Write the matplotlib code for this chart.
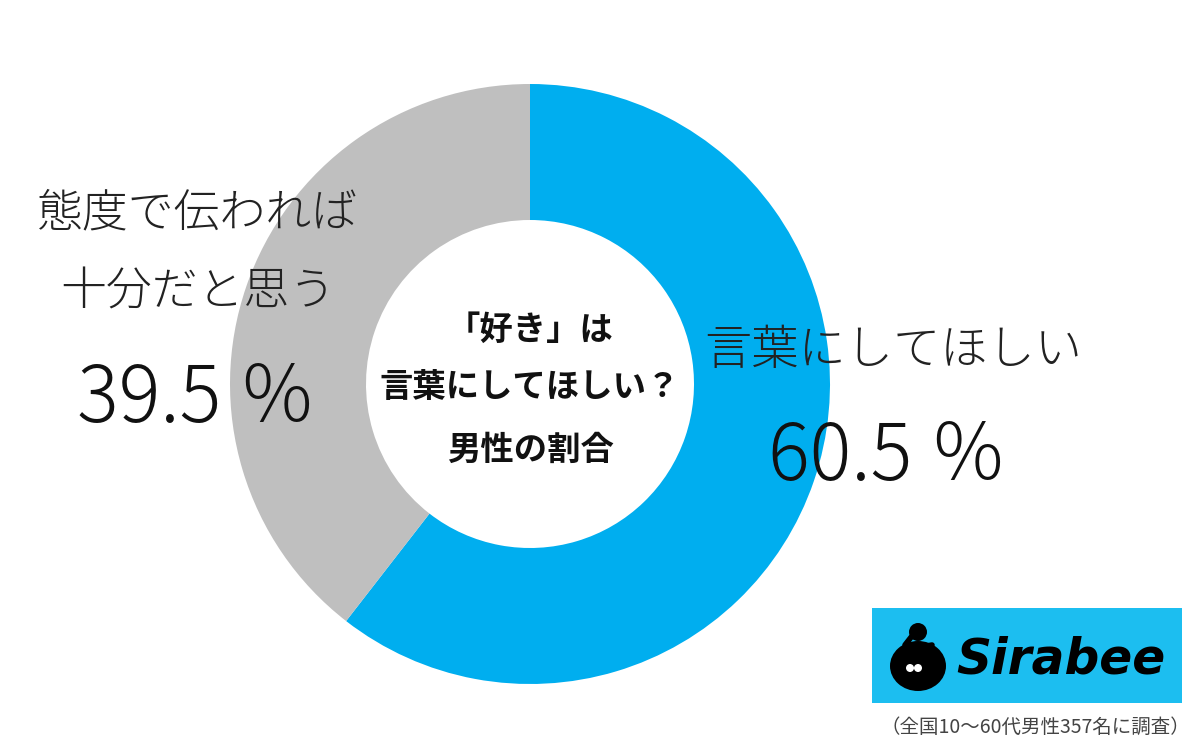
import matplotlib.pyplot as plt
from matplotlib.patches import Rectangle, Circle, Ellipse

plt.rcParams["font.family"] = ["Noto Sans CJK JP", "DejaVu Sans"]

labels = ["言葉にしてほしい", "態度で伝われば\n十分だと思う"]
values = [60.5, 39.5]
colours = ["#00AEEF", "#BFBFBF"]
center_title = ["「好き」は", "言葉にしてほしい？", "男性の割合"]
note = "（全国10～60代男性357名に調査）"

fig = plt.figure(figsize=(12, 7.5), dpi=100)
ax = fig.add_axes([0, 0, 1, 1])
H = 750

ax.pie(
    values,
    colors=colours,
    startangle=90,
    counterclock=False,
    center=(530, H - 384),
    radius=300,
    wedgeprops=dict(width=300 - 164, linewidth=0),
)
ax.set_xlim(0, 1200)
ax.set_ylim(0, H)
ax.set_aspect("equal")
ax.axis("off")

# centre text
for txt, y in zip(center_title, [330, 387, 450]):
    ax.text(530, H - y, txt, ha="center", va="center", fontsize=24,
            fontweight="bold", color="#111111")

# labels
ax.text(704, H - 350, labels[0], ha="left", va="center", fontsize=34,
        fontweight="light", color="#222222")
ax.text(888, H - 458, "%.1f ％" % values[0], ha="center", va="center",
        fontsize=56, fontweight="light", color="#111111")
l1, l2 = labels[1].split("\n")
ax.text(198, H - 214, l1, ha="center", va="center", fontsize=33,
        fontweight="light", color="#222222")
ax.text(198, H - 293, l2, ha="center", va="center", fontsize=33,
        fontweight="light", color="#222222")
ax.text(197, H - 400, "%.1f ％" % values[1], ha="center", va="center",
        fontsize=56, fontweight="light", color="#111111")

# logo
ax.add_patch(Rectangle((872, H - 703), 310, 95, color="#1CBEF0", lw=0))
ax.add_patch(Ellipse((918, H - 666), 56, 50, color="black", lw=0))
ax.add_patch(Circle((918, H - 632), 9, color="black", lw=0))
ax.plot([912, 905, 915, 932], [H - 636, H - 645, H - 648, H - 645],
        color="black", lw=4, solid_capstyle="round")
ax.add_patch(Circle((910, H - 668), 4, color="white", lw=0))
ax.add_patch(Circle((918, H - 668), 4, color="white", lw=0))
ax.text(1061, H - 660, "Sirabee", ha="center", va="center", fontsize=35,
        fontweight="bold", fontstyle="italic", family="DejaVu Sans", color="black")

ax.text(1190, H - 727, note, ha="right", va="center", fontsize=14, color="#444444")

fig.savefig("out.png", dpi=100)
